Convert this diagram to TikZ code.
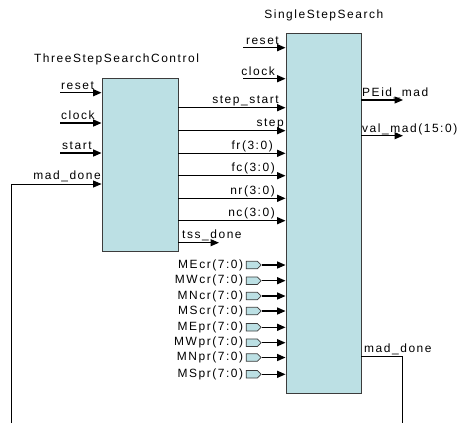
\documentclass[tikz,border=0pt]{standalone}
\usepackage{fontspec}
\setmainfont{Liberation Sans}[LetterSpace=13]
\usetikzlibrary{arrows.meta,shapes.symbols}
\definecolor{boxfill}{RGB}{188,224,228}
\definecolor{boxline}{RGB}{60,60,60}
\tikzset{
  blk/.style={draw=boxline, fill=boxfill, line width=0.9bp, inner sep=0, rectangle},
  sig/.style={line width=1.5bp, -{Triangle[length=8.5bp,width=7bp]}},
  wire/.style={line width=0.8bp},
  wirearr/.style={line width=0.8bp, -{Triangle[length=8.5bp,width=7bp]}},
  lbl/.style={inner sep=0, font=\fontsize{12}{14}\selectfont},
  port/.style={shape=signal, signal to=east, draw=boxline, fill=boxfill, line width=0.7bp,
     inner sep=0, minimum width=15bp, minimum height=7.5bp},
}
\begin{document}
\begin{tikzpicture}[x=1bp,y=-1bp]
\useasboundingbox (0,0) rectangle (458,423);
% blocks
\node[blk, minimum width=76bp, minimum height=173bp] (L) at (140,164.5) {};
\node[blk, minimum width=75bp, minimum height=360bp] (R) at (323.5,213) {};
\node[lbl] (Ltitle) at (116.5,59.5) {ThreeStepSearchControl};
\node[lbl] (Rtitle) at (323.8,15) {SingleStepSearch};
% left inputs
\coordinate (iLreset) at (60,92.7);
\coordinate (iLclock) at (60,123);
\coordinate (iLstart) at (60,153);
\coordinate (fbL) at (11,184);
\coordinate (fbLbot) at (11,423);
\draw[sig] (iLreset) -- (iLreset -| L.west);
\draw[sig] (iLclock) -- (iLclock -| L.west);
\draw[sig] (iLstart) -- (iLstart -| L.west);
\draw[wire] (fbLbot) -- (fbL);
\draw[wirearr] (fbL) -- (fbL -| L.west);
\node[lbl, anchor=base west] (tLreset) at (61,89.2) {reset};
\node[lbl, anchor=base west] (tLclock) at (61,119.5) {clock};
\node[lbl, anchor=base west] (tLstart) at (62,149.5) {start};
\node[lbl, anchor=base east] (tLmad) at (101,179) {mad\_done};
% right inputs
\coordinate (iRreset) at (243,47.7);
\coordinate (iRclock) at (243,78.7);
\draw[sig] (iRreset) -- (iRreset -| R.west);
\draw[sig] (iRclock) -- (iRclock -| R.west);
\node[lbl, anchor=base east] (tRreset) at (279,44) {reset};
\node[lbl, anchor=base east] (tRclock) at (275,75) {clock};
% between blocks
\foreach \nm/\yy/\txt/\xe in {a/107.7/step\_start/279, b/130.7/step/284, c/153.3/fr(3:0)/273, d/175.7/fc(3:0)/275, e/198.3/nr(3:0)/275, f/220.7/nc(3:0)/275}{
  \coordinate (m\nm) at (0,\yy);
  \draw[sig] (L.east |- m\nm) -- (R.west |- m\nm);
  \node[lbl, anchor=base east] (t\nm) at (\xe,\yy-4) {\txt};
}
% tss_done
\coordinate (otss) at (219,242.7);
\draw[wirearr, line width=1.1bp] (otss -| L.east) -- (otss);
\node[lbl, anchor=base west] (ttss) at (182,238.5) {tss\_done};
% memory ports
\foreach \nm/\yy in {MEcr/265, MWcr/280.7, MNcr/296, MScr/311, MEpr/327.3, MWpr/342.7, MNpr/357.5, MSpr/374.3}{
  \node[port] (p\nm) at (251.8,\yy) {};
  \draw[sig] (p\nm.east) -- (p\nm.east -| R.west);
  \node[lbl, anchor=east] (t\nm) at ([xshift=-2.5bp]p\nm.west) {\nm(7:0)};
}
% outputs
\coordinate (oPE) at (403,100);
\coordinate (oval) at (403,135.7);
\draw[wirearr, line width=1.1bp] (oPE -| R.east) -- (oPE);
\draw[wirearr, line width=1.1bp] (oval -| R.east) -- (oval);
\node[lbl, anchor=base west] (tPE) at (362,96.5) {PEid\_mad};
\node[lbl, anchor=base west] (tval) at (362,132.5) {val\_mad(15:0)};
% mad_done feedback on right
\coordinate (fbR) at (402.3,356);
\coordinate (fbRbot) at (402.3,423);
\draw[wire] (fbR -| R.east) -- (fbR) -- (fbRbot);
\node[lbl, anchor=base west] (tRmad) at (364,352.5) {mad\_done};
\end{tikzpicture}
\end{document}
